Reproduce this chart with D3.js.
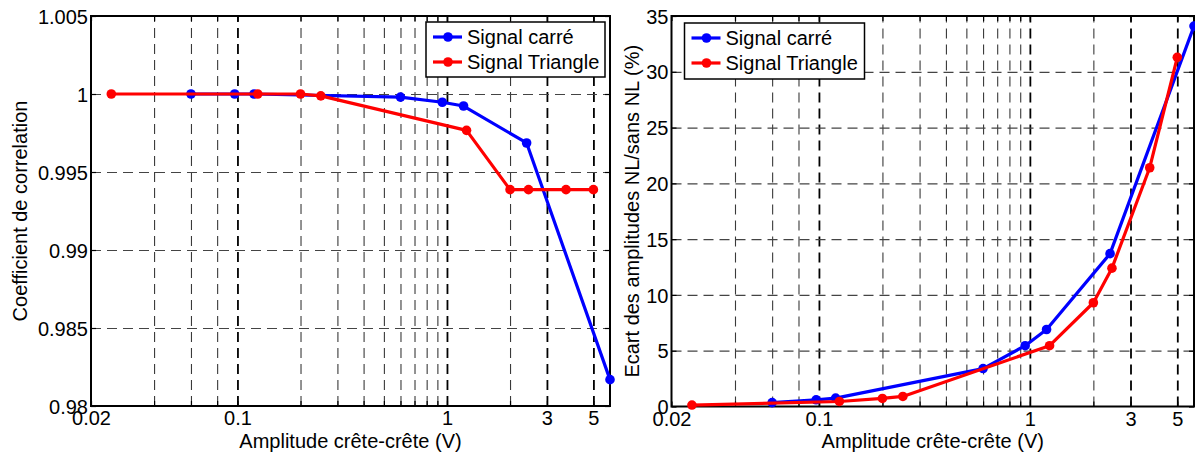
<!DOCTYPE html>
<html><head><meta charset="utf-8">
<script src="https://cdn.jsdelivr.net/npm/d3@7"></script>
<style>
body{margin:0;background:#fff;}
svg{display:block;}
text{font-family:"Liberation Sans",Arial,Helvetica,sans-serif;fill:#000;}
</style>
</head><body>
<svg id="c" width="1195" height="456"></svg>
<script>
// ---- data ----
const seriesNames = ["Signal carré", "Signal Triangle"];
const seriesColors = ["#0000ff", "#ff0000"];
const xCarre = [0.06, 0.097, 0.12, 0.6, 0.95, 1.2, 2.4, 6];
const xTriangle = [0.025, 0.125, 0.2, 0.25, 1.24, 2, 2.45, 3.7, 5];
const corrCarre = [1.0, 1.0, 1.0, 0.9998, 0.99947, 0.99923, 0.99686, 0.98169];
const corrTriangle = [1.0, 1.0, 1.0, 0.99988, 0.99767, 0.99387, 0.99387, 0.99387, 0.99387];
const ecartCarre = [0.35, 0.6, 0.75, 3.4, 5.45, 6.9, 13.7, 34.1];
const ecartTriangle = [0.13, 0.45, 0.72, 0.9, 5.45, 9.3, 12.4, 21.4, 31.3];
const xDomain = [0.02, 6];
const xMajorTicks = [0.02, 0.1, 1, 3, 5];
const xMajorLabels = ["0.02", "0.1", "1", "3", "5"];
const xMinorTicks = [0.04, 0.06, 0.08, 0.2, 0.3, 0.4, 0.5, 0.6, 0.7, 0.8, 0.9, 2];
const corrDomain = [0.98, 1.005];
const corrTicks = [0.98, 0.985, 0.99, 0.995, 1, 1.005];
const corrTickLabels = ["0.98", "0.985", "0.99", "0.995", "1", "1.005"];
const ecartDomain = [0, 35];
const ecartTicks = [0, 5, 10, 15, 20, 25, 30, 35];
const ecartTickLabels = ["0", "5", "10", "15", "20", "25", "30", "35"];
const xTitle = "Amplitude crête-crête (V)";
const corrTitle = "Coefficient de correlation";
const ecartTitle = "Ecart des amplitudes NL/sans NL (%)";

// ---- drawing ----
const svg = d3.select("#c");
const FS = 20;

function panel(cfg) {
  const x = d3.scaleLog().domain(xDomain).range([cfg.x0, cfg.x1]);
  const y = d3.scaleLinear().domain(cfg.yDomain).range([cfg.y0, cfg.y1]);
  const g = svg.append("g");
  const h = cfg.y0 - cfg.y1, w = cfg.x1 - cfg.x0;

  // vertical grid (minor, then major)
  const vgMinor = g.append("g").attr("transform", `translate(0,${cfg.y0})`)
    .call(d3.axisBottom(x).tickValues(xMinorTicks).tickSize(-h).tickFormat(""));
  vgMinor.selectAll("line").attr("stroke", "#3a3a3a").attr("stroke-width", 1.1).attr("stroke-dasharray", "10,6");
  const vgMajor = g.append("g").attr("transform", `translate(0,${cfg.y0})`)
    .call(d3.axisBottom(x).tickValues(xMajorTicks.filter(v => v > xDomain[0])).tickSize(-h).tickFormat(""));
  vgMajor.selectAll("line").attr("stroke", "#000").attr("stroke-width", 1.8).attr("stroke-dasharray", "10,6");
  // horizontal grid
  const hg = g.append("g").attr("transform", `translate(${cfg.x0},0)`)
    .call(d3.axisLeft(y).tickValues(cfg.yTicks.slice(1, -1)).tickSize(-w).tickFormat(""));
  hg.selectAll("line").attr("stroke", "#444").attr("stroke-width", 1.2).attr("stroke-dasharray", "10,6");
  [vgMinor, vgMajor, hg].forEach(s => s.select(".domain").remove());

  // inner tick marks
  const allX = xMajorTicks.concat(xMinorTicks);
  const tb = g.append("g").attr("transform", `translate(0,${cfg.y0})`)
    .call(d3.axisBottom(x).tickValues(allX).tickSize(-5).tickFormat(""));
  const tt = g.append("g").attr("transform", `translate(0,${cfg.y1})`)
    .call(d3.axisTop(x).tickValues(allX).tickSize(-5).tickFormat(""));
  const tl = g.append("g").attr("transform", `translate(${cfg.x0},0)`)
    .call(d3.axisLeft(y).tickValues(cfg.yTicks).tickSize(-5).tickFormat(""));
  const tr = g.append("g").attr("transform", `translate(${cfg.x1},0)`)
    .call(d3.axisRight(y).tickValues(cfg.yTicks).tickSize(-5).tickFormat(""));
  [tb, tt, tl, tr].forEach(s => { s.select(".domain").remove(); s.selectAll("line").attr("stroke", "#000").attr("stroke-width", 1.2); });

  // tick labels
  const xl = g.append("g").attr("transform", `translate(0,${cfg.y0})`)
    .call(d3.axisBottom(x).tickValues(xMajorTicks).tickSize(0).tickPadding(0)
      .tickFormat((d, i) => xMajorLabels[i]));
  xl.select(".domain").remove();
  xl.selectAll("text").attr("y", 19).attr("dy", "0").attr("font-size", FS)
    .attr("font-family", '"Liberation Sans",Arial,sans-serif').attr("fill", "#000");
  const yl = g.append("g").attr("transform", `translate(${cfg.x0},0)`)
    .call(d3.axisLeft(y).tickValues(cfg.yTicks).tickSize(0).tickPadding(3)
      .tickFormat((d, i) => cfg.yLabels[i]));
  yl.select(".domain").remove();
  yl.selectAll("text").attr("font-size", FS).attr("dy", "0.36em")
    .attr("font-family", '"Liberation Sans",Arial,sans-serif').attr("fill", "#000");

  // box
  g.append("rect").attr("x", cfg.x0).attr("y", cfg.y1).attr("width", w).attr("height", h)
    .attr("fill", "none").attr("stroke", "#000").attr("stroke-width", 2);

  // series
  cfg.series.forEach((s, k) => {
    const pts = s.xs.map((v, i) => [v, s.ys[i]]);
    const line = d3.line().x(d => x(d[0])).y(d => y(d[1]));
    g.append("path").datum(pts).attr("d", line).attr("fill", "none")
      .attr("stroke", seriesColors[k]).attr("stroke-width", 3.2).attr("stroke-linejoin", "round");
    g.selectAll(null).data(pts).enter().append("circle")
      .attr("cx", d => x(d[0])).attr("cy", d => y(d[1])).attr("r", 4.8)
      .attr("fill", seriesColors[k]);
  });

  // axis titles
  g.append("text").attr("x", (cfg.x0 + cfg.x1) / 2).attr("y", 448).attr("text-anchor", "middle")
    .attr("font-size", FS).text(xTitle);
  g.append("text").attr("transform", `translate(${cfg.yTitleX},${(cfg.y0 + cfg.y1) / 2}) rotate(-90)`)
    .attr("text-anchor", "middle").attr("font-size", FS).text(cfg.yTitle);

  // legend
  const L = cfg.legend;
  const lg = g.append("g").attr("transform", `translate(${L.x},${L.y})`);
  lg.append("rect").attr("width", L.w).attr("height", L.h).attr("fill", "#fff")
    .attr("stroke", "#000").attr("stroke-width", 1.5);
  seriesNames.forEach((n, k) => {
    const cy = 15 + k * 25;
    lg.append("line").attr("x1", 7).attr("x2", 36).attr("y1", cy).attr("y2", cy)
      .attr("stroke", seriesColors[k]).attr("stroke-width", 3.2);
    lg.append("circle").attr("cx", 22).attr("cy", cy).attr("r", 4.8).attr("fill", seriesColors[k]);
    lg.append("text").attr("x", 41).attr("y", cy).attr("dy", "0.36em").attr("font-size", FS).text(n);
  });
}

panel({
  x0: 91, x1: 610, y0: 406, y1: 16,
  yDomain: corrDomain, yTicks: corrTicks, yLabels: corrTickLabels,
  yTitle: corrTitle, yTitleX: 27,
  series: [{xs: xCarre, ys: corrCarre}, {xs: xTriangle, ys: corrTriangle}],
  legend: {x: 426, y: 22, w: 179, h: 55}
});
panel({
  x0: 671.5, x1: 1194, y0: 406.5, y1: 16,
  yDomain: ecartDomain, yTicks: ecartTicks, yLabels: ecartTickLabels,
  yTitle: ecartTitle, yTitleX: 639,
  series: [{xs: xCarre, ys: ecartCarre}, {xs: xTriangle, ys: ecartTriangle}],
  legend: {x: 684.5, y: 23, w: 180, h: 56}
});
</script>
</body></html>
